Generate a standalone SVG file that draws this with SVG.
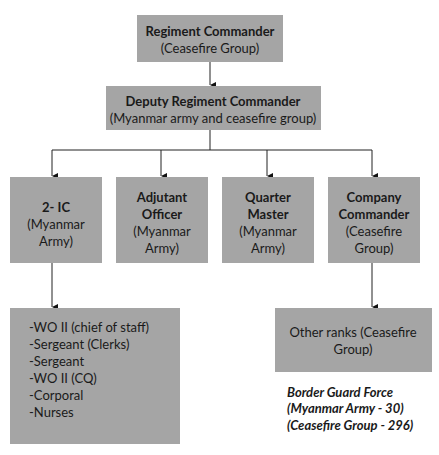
<svg xmlns="http://www.w3.org/2000/svg" width="439" height="455" viewBox="0 0 439 455">
<defs>
<marker id="ah" viewBox="0 0 6 6" refX="3" refY="6" markerWidth="6" markerHeight="6" markerUnits="userSpaceOnUse" orient="auto-start-reverse">
<path d="M0,0 L6,0 L3,6 Z" fill="#111"/>
</marker>
<style>
.box{fill:#a5a5a5;}
text{font-family:Lato,"Open Sans","Liberation Sans",sans-serif;font-size:13px;fill:#1a1a1a;text-anchor:middle;}
.b{font-weight:bold;}
.l{text-anchor:start;}
.bi{font-weight:bold;font-style:italic;text-anchor:start;}
.c{stroke:#222;stroke-width:1;fill:none;}
</style>
</defs>
<rect width="439" height="455" fill="#fff"/>
<g id="connectors">
<line class="c" x1="210" y1="62" x2="210" y2="85" marker-end="url(#ah)"/>
<polyline class="c" points="210,130 210,150"/>
<line class="c" x1="52" y1="150" x2="372" y2="150"/>
<line class="c" x1="52" y1="150" x2="52" y2="176" marker-end="url(#ah)"/>
<line class="c" x1="161" y1="150" x2="161" y2="176" marker-end="url(#ah)"/>
<line class="c" x1="267" y1="150" x2="267" y2="176" marker-end="url(#ah)"/>
<line class="c" x1="372" y1="150" x2="372" y2="176" marker-end="url(#ah)"/>
<line class="c" x1="52" y1="263" x2="52" y2="307" marker-end="url(#ah)"/>
<line class="c" x1="372" y1="263" x2="372" y2="307" marker-end="url(#ah)"/>
</g>
<g id="regiment-commander">
<rect class="box" x="137" y="15" width="146" height="47"/>
<text class="b" x="210" y="36">Regiment Commander</text>
<text x="210" y="53">(Ceasefire Group)</text>
</g>
<g id="deputy-regiment-commander">
<rect class="box" x="106" y="86" width="215" height="44"/>
<text class="b" x="213" y="106">Deputy Regiment Commander</text>
<text x="213" y="123">(Myanmar army and ceasefire group)</text>
</g>
<g id="two-ic">
<rect class="box" x="10" y="177" width="92" height="86"/>
<text class="b" x="56" y="212">2- IC</text>
<text x="56" y="229">(Myanmar</text>
<text x="56" y="246">Army)</text>
</g>
<g id="adjutant-officer">
<rect class="box" x="116" y="177" width="92" height="86"/>
<text class="b" x="162" y="202">Adjutant</text>
<text class="b" x="162" y="219">Officer</text>
<text x="162" y="236">(Myanmar</text>
<text x="162" y="253">Army)</text>
</g>
<g id="quarter-master">
<rect class="box" x="222" y="177" width="92" height="86"/>
<text class="b" x="268" y="202">Quarter</text>
<text class="b" x="268" y="219">Master</text>
<text x="268" y="236">(Myanmar</text>
<text x="268" y="253">Army)</text>
</g>
<g id="company-commander">
<rect class="box" x="328" y="177" width="92" height="86"/>
<text class="b" x="374" y="202">Company</text>
<text class="b" x="374" y="219">Commander</text>
<text x="374" y="236">(Ceasefire</text>
<text x="374" y="253">Group)</text>
</g>
<g id="staff-list">
<rect class="box" x="10" y="308" width="170" height="136"/>
<text class="l" x="29" y="332">-WO II (chief of staff)</text>
<text class="l" x="29" y="349">-Sergeant (Clerks)</text>
<text class="l" x="29" y="366">-Sergeant</text>
<text class="l" x="29" y="383">-WO II (CQ)</text>
<text class="l" x="29" y="400">-Corporal</text>
<text class="l" x="29" y="417">-Nurses</text>
</g>
<g id="other-ranks">
<rect class="box" x="275" y="308" width="157" height="64"/>
<text x="353" y="337">Other ranks (Ceasefire</text>
<text x="353" y="354">Group)</text>
</g>
<g id="note">
<text class="bi" x="287" y="397">Border Guard Force</text>
<text class="bi" x="287" y="413">(Myanmar Army - 30)</text>
<text class="bi" x="287" y="430">(Ceasefire Group - 296)</text>
</g>
</svg>
